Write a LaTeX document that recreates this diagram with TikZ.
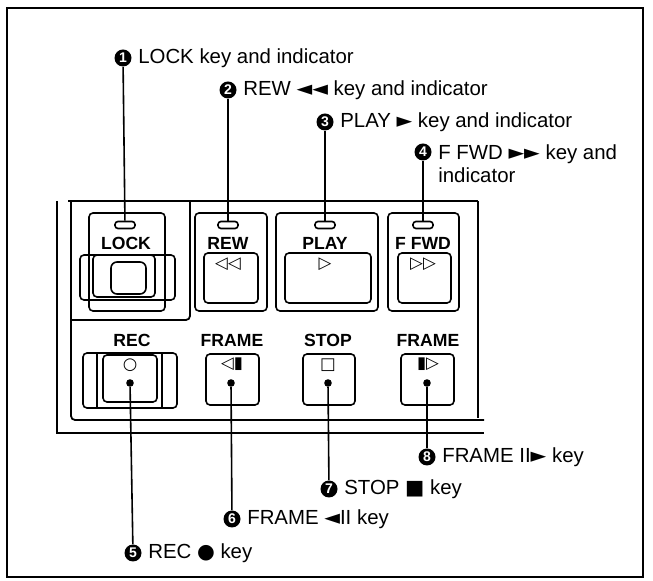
\documentclass[tikz,border=0pt]{standalone}
\usepackage{fontspec}
\setmainfont{Liberation Sans}
\newfontfamily\symfont{DejaVu Sans}
\usetikzlibrary{positioning}

\begin{document}
\begin{tikzpicture}[x=0.5pt, y=-0.5pt,
        num/.style={circle, fill=black, text=white, inner sep=0pt, minimum size=8.5pt, font=\fontsize{7}{7}\selectfont\bfseries},
        callout/.style={inner sep=0pt, font=\fontsize{10.2}{11.5}\selectfont},
        keyname/.style={inner sep=0pt, font=\fontsize{8.8}{9}\selectfont\bfseries},
        keysym/.style={inner sep=0pt, font=\symfont\bfseries\fontsize{8.3}{8.3}\selectfont},
        led/.style={draw, line width=0.8pt, rounded corners=1.5pt, minimum width=10pt, minimum height=3.5pt, inner sep=0pt},
        pin/.style={circle, fill=black, inner sep=0pt, minimum size=3.8pt},
        leader/.style={line width=0.8pt}
    ]
        \useasboundingbox (0,0) rectangle (653,581);

        % Outer frame
        \draw[line width=0.7pt] (7,8) rectangle (643,577);

        % Panel
        \draw[line width=0.9pt] (57,201) -- (57,433) -- (484,433);
        \draw[line width=0.9pt] (68,201) -- (478,201);
        \draw[line width=0.9pt, rounded corners=2pt] (71,201) -- (71,420) -- (484,420);
        \draw[line width=0.9pt] (478,201) -- (478,418);
        \draw[line width=0.9pt, rounded corners=2pt] (71,320) -- (190,320) -- (190,201);

        % Upper row of keys
        \draw[thick, rounded corners=2pt] (89,213) rectangle (165,311);
        \draw[thick, rounded corners=2pt] (80,255) rectangle (175,300);
        \draw[thick, rounded corners=2pt] (93,255) rectangle (155,297);
        \draw[thick, rounded corners=3pt] (111,262) rectangle (146,294);

        \draw[thick, rounded corners=2pt] (195,213) rectangle (267,311);
        \draw[thick, rounded corners=2pt] (204,253) rectangle (258,303);
        \draw[thick, rounded corners=2pt] (276,213) rectangle (378,311);
        \draw[thick, rounded corners=2pt] (285,253) rectangle (371,303);
        \draw[thick, rounded corners=2pt] (388,213) rectangle (459,311);
        \draw[thick, rounded corners=2pt] (398,253) rectangle (451,303);

        \node[led] (led1) at (125,225) {};
        \node[led] (led2) at (228,225) {};
        \node[led] (led3) at (325,225) {};
        \node[led] (led4) at (423,225) {};

        \node[keyname] (lock) at (126,243) {LOCK};
        \node[keyname] (rew) at (228,243) {REW};
        \node[keyname] (play) at (325,243) {PLAY};
        \node[keyname] (ffwd) at (423,243) {F FWD};

        \node[keysym] (rewsym) at (228,264) {◁◁};
        \node[keysym] (playsym) at (325,264) {▷};
        \node[keysym] (ffwdsym) at (423,264) {▷▷};

        % Lower row of keys
        \draw[thick, rounded corners=2pt] (83,353) rectangle (177,408);
        \draw[thick] (97,353) -- (97,408);
        \draw[thick] (162,353) -- (162,408);
        \draw[thick, rounded corners=2pt] (103,355) rectangle (157,402);
        \draw[thick, rounded corners=2pt] (206,354) rectangle (259,405);
        \draw[thick, rounded corners=2pt] (303,354) rectangle (355,405);
        \draw[thick, rounded corners=2pt] (401,354) rectangle (454,405);

        \node[keyname] (rec) at (132,340) {REC};
        \node[keyname] (frameback) at (232,340) {FRAME};
        \node[keyname] (stop) at (328,340) {STOP};
        \node[keyname] (framefwd) at (428,340) {FRAME};

        \node[keysym] (recsym) at (130,365) {○};
        \node[keysym] (backsym) at (232,364) {◁▮};
        \node[keysym] (stopsym) at (328,365) {□};
        \node[keysym] (fwdsym) at (428,364) {▮▷};

        \node[pin] (pin5) at (130,383) {};
        \node[pin] (pin6) at (231,383) {};
        \node[pin] (pin7) at (328,383) {};
        \node[pin] (pin8) at (427,383) {};

        % Callouts for the upper row
        \node[num] (num1) at (123,58) {1};
        \node[num] (num2) at (228,90) {2};
        \node[num] (num3) at (325,122) {3};
        \node[num] (num4) at (423,152) {4};
        \node[callout, right=3pt of num1] (lab1) {LOCK key and indicator};
        \node[callout, right=3pt of num2] (lab2) {REW {\symfont ◄◄} key and indicator};
        \node[callout, right=3pt of num3] (lab3) {PLAY {\symfont ►} key and indicator};
        \node[callout, right=3pt of num4, yshift=-5.75pt, align=left] (lab4) {F FWD {\symfont ►►} key and\\indicator};

        \draw[leader] (num1) -- (led1);
        \draw[leader] (num2) -- (led2);
        \draw[leader] (num3) -- (led3);
        \draw[leader] (num4) -- (led4);

        % Callouts for the lower row
        \node[num] (num5) at (133,553) {5};
        \node[num] (num6) at (232,519) {6};
        \node[num] (num7) at (329,489) {7};
        \node[num] (num8) at (427,457) {8};
        \node[callout, right=3pt of num5] (lab5) {REC {\symfont ●} key};
        \node[callout, right=3pt of num6] (lab6) {FRAME {\symfont ◄}II key};
        \node[callout, right=3pt of num7] (lab7) {STOP {\symfont ■} key};
        \node[callout, right=3pt of num8] (lab8) {FRAME II{\symfont ►} key};

        \draw[leader] (pin5) -- (num5);
        \draw[leader] (pin6) -- (num6);
        \draw[leader] (pin7) -- (num7);
        \draw[leader] (pin8) -- (num8);

    \end{tikzpicture}
\end{document}
